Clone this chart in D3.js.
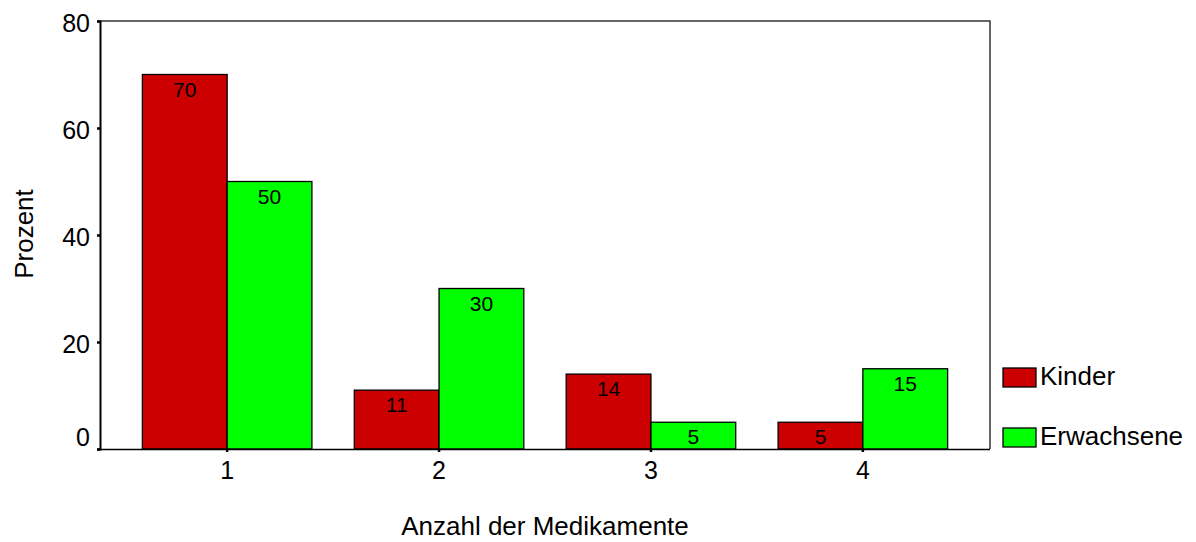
<!DOCTYPE html>
<html>
<head>
<meta charset="utf-8">
<script src="https://cdn.jsdelivr.net/npm/d3@7"></script>
<style>
  html, body { margin: 0; padding: 0; background: #fff; }
  svg { display: block; font-family: "Liberation Sans", Arial, Helvetica, sans-serif; }
</style>
</head>
<body>
<svg id="chart" width="1196" height="542"></svg>
<script>
// Anzahl der Medikamente, Anteil in Prozent je Gruppe
const categories = ["1", "2", "3", "4"];
const seriesNames = ["Kinder", "Erwachsene"];
const kinder = [70, 11, 14, 5];
const erwachsene = [50, 30, 5, 15];
const yTicks = [0, 20, 40, 60, 80];
const colors = ["#CC0000", "#00FF00"];

const svg = d3.select("#chart");
const plotLeft = 100, plotRight = 990, plotTop = 21, plotBottom = 449;

const x = d3.scaleBand().domain(categories).range([plotLeft, plotRight])
  .paddingInner(0.2).paddingOuter(0.2);
const xs = d3.scaleBand().domain(seriesNames).range([0, x.bandwidth()]);
const y = d3.scaleLinear().domain([0, 80]).range([plotBottom, plotTop]);

const rows = categories.map((c, i) => ({
  cat: c,
  vals: [
    { name: seriesNames[0], v: kinder[i], color: colors[0] },
    { name: seriesNames[1], v: erwachsene[i], color: colors[1] }
  ]
}));

// frame: top and right edges
svg.append("path")
  .attr("d", `M${plotLeft},${plotTop}H${plotRight}V${plotBottom}`)
  .attr("fill", "none").attr("stroke", "#333").attr("stroke-width", 1.5);

// bars
const g = svg.append("g").selectAll("g").data(rows).join("g")
  .attr("transform", d => `translate(${x(d.cat)},0)`);

g.selectAll("rect").data(d => d.vals).join("rect")
  .attr("x", d => xs(d.name))
  .attr("y", d => y(d.v))
  .attr("width", xs.bandwidth())
  .attr("height", d => y(0) - y(d.v))
  .attr("fill", d => d.color)
  .attr("stroke", "#000").attr("stroke-width", 1.3);

g.selectAll("text").data(d => d.vals).join("text")
  .attr("x", d => xs(d.name) + xs.bandwidth() / 2)
  .attr("y", d => y(d.v) + 22)
  .attr("text-anchor", "middle")
  .attr("font-size", 21)
  .attr("fill", "#000")
  .text(d => d.v);

// y axis
const yAxis = svg.append("g").attr("transform", `translate(${plotLeft},0)`)
  .call(d3.axisLeft(y).tickValues(yTicks).tickSize(3).tickPadding(7));
yAxis.select(".domain").attr("stroke", "#000").attr("stroke-width", 2);
yAxis.selectAll(".tick line").attr("stroke", "#000").attr("stroke-width", 2.5);
yAxis.selectAll(".tick text")
  .attr("font-size", 25).attr("fill", "#000")
  .attr("font-family", "Liberation Sans, Arial, sans-serif")
  .attr("dy", d => d === 0 ? "-0.16em" : "0.4em");

// x axis
const xAxis = svg.append("g").attr("transform", `translate(0,${plotBottom})`)
  .call(d3.axisBottom(x).tickSize(3).tickPadding(9).tickSizeOuter(0));
xAxis.select(".domain").attr("stroke", "#000").attr("stroke-width", 1.5)
  .attr("d", `M${plotLeft - 3},0.5H${plotRight}`);
xAxis.selectAll(".tick line").attr("stroke", "#000").attr("stroke-width", 2.5);
xAxis.selectAll(".tick text")
  .attr("font-size", 25).attr("fill", "#000")
  .attr("font-family", "Liberation Sans, Arial, sans-serif");

// axis titles
svg.append("text")
  .attr("x", 545).attr("y", 535)
  .attr("text-anchor", "middle").attr("font-size", 26).attr("fill", "#000")
  .text("Anzahl der Medikamente");

svg.append("text")
  .attr("transform", "translate(33,234) rotate(-90)")
  .attr("text-anchor", "middle").attr("font-size", 26).attr("fill", "#000")
  .text("Prozent");

// legend
const legend = svg.append("g").selectAll("g").data(seriesNames).join("g")
  .attr("transform", (d, i) => `translate(1003,${368 + i * 60})`);
legend.append("rect")
  .attr("width", 33).attr("height", 19)
  .attr("fill", (d, i) => colors[i])
  .attr("stroke", "#000").attr("stroke-width", 1.3);
legend.append("text")
  .attr("x", 37).attr("y", 17)
  .attr("font-size", 26).attr("fill", "#000")
  .text(d => d);
</script>
</body>
</html>
